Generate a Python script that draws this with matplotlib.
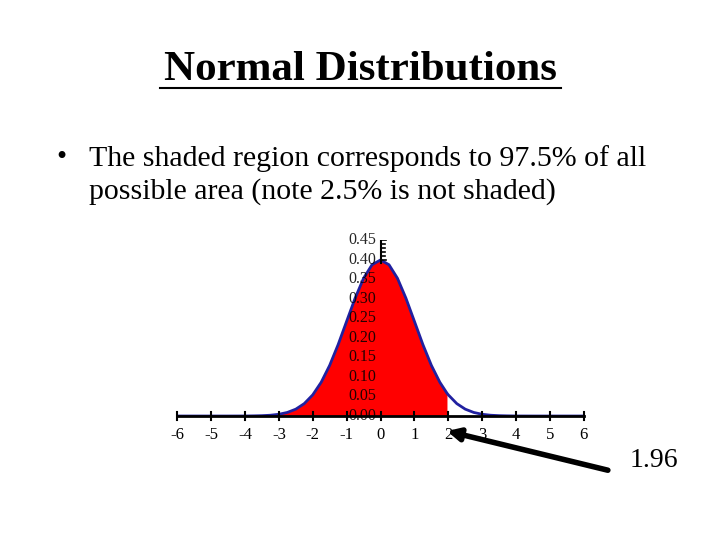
import matplotlib
matplotlib.use("Agg")
import matplotlib.pyplot as plt

# standard normal density read at 0.25 steps (half-curve, mirrored) plus the 1.96 cut
x_half = [0, 0.25, 0.5, 0.75, 1, 1.25, 1.5, 1.75, 2, 2.25, 2.5, 2.75, 3, 3.25, 3.5, 3.75, 4, 4.5, 5, 5.5, 6]
y_half = [0.3989, 0.3867, 0.3521, 0.3011, 0.2420, 0.1826, 0.1295, 0.0863, 0.0540, 0.0317, 0.0175,
          0.0091, 0.0044, 0.0020, 0.0009, 0.0004, 0.0001, 0.0, 0.0, 0.0, 0.0]
cut_x, cut_y = 1.96, 0.0584
xticks = [-6, -5, -4, -3, -2, -1, 0, 1, 2, 3, 4, 5, 6]
yticks = [0.00, 0.05, 0.10, 0.15, 0.20, 0.25, 0.30, 0.35, 0.40, 0.45]

xs = [-v for v in reversed(x_half[1:])] + x_half
ys = list(reversed(y_half[1:])) + y_half
pts = sorted(list(zip(xs, ys)) + [(cut_x, cut_y)])
X = [p[0] for p in pts]; Y = [p[1] for p in pts]
fx = [a for a in X if a <= cut_x]; fy = [b for a, b in pts if a <= cut_x]

serif = ["Liberation Serif", "DejaVu Serif"]
fig = plt.figure(figsize=(7.2, 5.4), dpi=100)
fig.text(0.5, 0.87, "Normal Distributions", ha="center", va="center", fontsize=31, fontweight="bold", family=serif)
fig.add_artist(matplotlib.lines.Line2D([0.222, 0.779], [0.837, 0.837], color="black", lw=1.5))
fig.text(0.078, 0.707, "•", fontsize=21, family=serif, va="center")
fig.text(0.123, 0.707, "The shaded region corresponds to 97.5% of all", fontsize=21.5, family=serif, va="center")
fig.text(0.123, 0.645, "possible area (note 2.5% is not shaded)", fontsize=21.5, family=serif, va="center")
fig.text(0.908, 0.135, "1.96", ha="center", fontsize=20, family=serif)

ax = fig.add_axes([0.246, 0.2296, 0.565, 0.326])
ax.set_xlim(-6, 6); ax.set_ylim(0, 0.45)
ax.fill_between(fx, fy, 0, color="red", lw=0)
ax.plot(X, Y, color="#2020a0", lw=2)
for s in ax.spines.values():
    s.set_visible(False)
ax.set_xticks([]); ax.set_yticks([])
ax.axhline(0, color="black", lw=2, clip_on=False)
for t in xticks:
    ax.plot([t, t], [-0.01, 0.01], color="black", lw=1.5, clip_on=False)
    ax.text(t, -0.048, str(t), ha="center", va="center", fontsize=12, family=serif)
ax.plot([0, 0], [0.39, 0.45], color="black", lw=1.5)
for v in yticks:
    ax.text(-0.12, v, f"{v:.2f}", ha="right", va="center", fontsize=11.5, family=serif, alpha=0.85)
    if v >= 0.40:
        ax.plot([0, 0.15], [v, v], color="black", lw=1.2)
for v in [0.41, 0.42, 0.43, 0.44]:
    ax.plot([0, 0.12], [v, v], color="black", lw=1.2)

fig.add_artist(matplotlib.patches.FancyArrowPatch((0.848, 0.128), (0.617, 0.203),
               transform=fig.transFigure, arrowstyle="-|>", mutation_scale=18, lw=4, color="black"))
fig.savefig("out.png", dpi=100)
